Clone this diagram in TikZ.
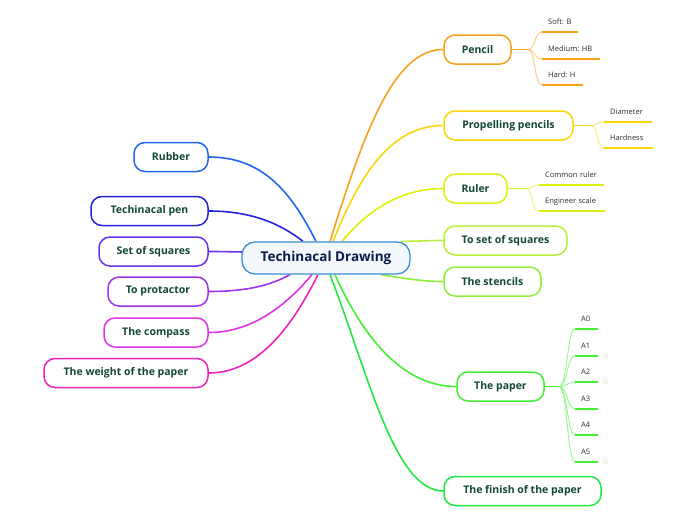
\documentclass[tikz,border=0pt]{standalone}
\usepackage{fontspec}
\setmainfont{Open Sans}
\usetikzlibrary{backgrounds}
\definecolor{txt}{RGB}{18,72,56}
\definecolor{roottxt}{RGB}{12,30,72}
\definecolor{leaftxt}{RGB}{45,45,45}
\definecolor{rootdraw}{HTML}{3C8ED4}
\definecolor{rootfill}{HTML}{F3F8FC}
\definecolor{cOr}{HTML}{F7A11C}
\definecolor{cPp}{HTML}{F8D60A}
\definecolor{cRu}{HTML}{DDF00C}
\definecolor{cSq}{HTML}{B8F03C}
\definecolor{cSt}{HTML}{8EEE3A}
\definecolor{cPa}{HTML}{44EE33}
\definecolor{cFi}{HTML}{22E844}
\definecolor{cRb}{HTML}{2266F0}
\definecolor{cPn}{HTML}{2424E0}
\definecolor{cSs}{HTML}{6633F0}
\definecolor{cPr}{HTML}{A033F0}
\definecolor{cCo}{HTML}{E033E6}
\definecolor{cWe}{HTML}{F022B8}
\newcommand\lft[1]{\hspace*{6pt}\mbox{#1}}
\frenchspacing
\begin{document}
\begin{tikzpicture}[x=1pt,y=-1pt,
  box/.style={draw=#1, line width=1.5pt, rounded corners=11pt, fill=white,
    minimum height=29pt, inner sep=0pt, text=txt,
    font=\bfseries\fontsize{10.5}{12}\selectfont},
  rootbox/.style={draw=rootdraw, line width=1.3pt, rounded corners=13pt, fill=rootfill,
    minimum height=32pt, minimum width=168pt, inner sep=0pt, text=roottxt,
    font=\bfseries\fontsize{13.5}{15}\selectfont},
  br/.style={draw=#1, line width=1.6pt},
  stub/.style={draw=#1, line width=1.2pt},
  sub/.style={draw=#1!55, line width=0.9pt},
  ul/.style={draw=#1, line width=2pt},
  leaf/.style={anchor=south west, inner sep=0pt, text width=#1, align=left,
    text height=6pt, text depth=7pt, text=leaftxt, font=\fontsize{7.5}{9}\selectfont},
]
\useasboundingbox (0,0) rectangle (696,520);

% root
\node[rootbox] (root) at (326,258) {Techinacal Drawing};

% right boxes
\node[box=cOr, minimum width=67pt]  (pencil) at (477.5,49.5)  {Pencil};
\node[box=cPp, minimum width=129pt] (prop)   at (508.5,125.5) {Propelling pencils};
\node[box=cRu, minimum width=63pt]  (ruler)  at (475.5,188.5) {Ruler};
\node[box=cSq, minimum width=123pt] (tosq)   at (505.5,240.5) {To set of squares};
\node[box=cSt, minimum width=97pt]  (sten)   at (492.5,281.5) {The stencils};
\node[box=cPa, minimum width=87pt]  (paper)  at (500.5,386.5) {The paper};
\node[box=cFi, minimum width=157pt] (finish) at (522.5,491)   {The finish of the paper};

% left boxes
\node[box=cRb, minimum width=74pt]  (rubber) at (171,157)   {Rubber};
\node[box=cPn, minimum width=117pt] (pen)    at (149.5,211) {Techinacal pen};
\node[box=cSs, minimum width=109pt] (sos)    at (153.5,251.5) {Set of squares};
\node[box=cPr, minimum width=100pt] (prot)   at (158,291.5) {To protactor};
\node[box=cCo, minimum width=104pt] (comp)   at (156,332.5) {The compass};
\node[box=cWe, minimum width=164pt] (weight) at (126,373)   {The weight of the paper};

% leaves
\node[leaf=36pt] (sb) at (542,32) {\lft{Soft: B}};
\node[leaf=58pt] (mh) at (542,59) {\lft{Medium: HB}};
\node[leaf=41pt] (hh) at (542,85) {\lft{Hard: H}};
\node[leaf=48pt] (dia) at (604,122) {\lft{Diameter}};
\node[leaf=49pt] (har) at (604,148) {\lft{Hardness}};
\node[leaf=65pt] (cr) at (539,185) {\lft{Common ruler}};
\node[leaf=66pt] (es) at (539,211) {\lft{Engineer scale}};
\node[leaf=23pt] (a0) at (575,329)   {\lft{A0}};
\node[leaf=23pt] (a1) at (575,355.5) {\lft{A1}};
\node[leaf=23pt] (a2) at (575,382)   {\lft{A2}};
\node[leaf=23pt] (a3) at (575,408.5) {\lft{A3}};
\node[leaf=23pt] (a4) at (575,435)   {\lft{A4}};
\node[leaf=23pt] (a5) at (575,462)   {\lft{A5}};

\coordinate (ph) at ([xshift=16pt]pencil.east);
\coordinate (pph) at ([xshift=17pt]prop.east);
\coordinate (rh) at ([xshift=18pt]ruler.east);
\coordinate (pah) at ([xshift=14pt]paper.east);

\begin{scope}[on background layer]
% right branches
\draw[br=cOr] ([xshift=4pt]root.north) .. controls +(35,-112) and +(-49,0) .. (pencil.west);
\draw[br=cPp] ([xshift=7pt]root.north) .. controls +(24,-59) and +(-56,0) .. (prop.west);
\draw[br=cRu] ([xshift=16pt]root.north) .. controls +(20,-24) and +(-49,0) .. (ruler.west);
\draw[br=cSq] ([xshift=-10pt]root.north east) .. controls +(20,0) and +(-20,0) .. (tosq.west);
\draw[br=cSt] ([xshift=55pt]root.south) .. controls +(25,4) and +(-20,0) .. (sten.west);
\draw[br=cPa] ([xshift=9pt]root.south) .. controls +(25,56) and +(-57,0) .. (paper.west);
\draw[br=cFi] ([xshift=4pt]root.south) .. controls +(38,98) and +(-49,0) .. (finish.west);
% left branches
\draw[br=cRb] ([xshift=-10pt]root.north) .. controls +(-26,-52) and +(52,0) .. (rubber.east);
\draw[br=cPn] ([xshift=-23pt]root.north) .. controls +(-23,-18) and +(42,0) .. (pen.east);
\draw[br=cSs] ([xshift=10pt,yshift=6pt]root.west) .. controls +(-20,0) and +(20,0) .. (sos.east);
\draw[br=cPr] ([xshift=-36pt]root.south) .. controls +(-20,11) and +(37,0) .. (prot.east);
\draw[br=cCo] ([xshift=-14pt]root.south) .. controls +(-22,26) and +(47,0) .. (comp.east);
\draw[br=cWe] ([xshift=-8pt]root.south) .. controls +(-23,46) and +(52,0) .. (weight.east);
\end{scope}

% stubs
\draw[stub=cOr] (pencil.east) -- (ph);
\draw[stub=cPp] (prop.east) -- (pph);
\draw[stub=cRu] (ruler.east) -- (rh);
\draw[stub=cPa] (paper.east) -- (pah);

% sub connectors
\foreach \n in {sb,mh,hh}{\draw[sub=cOr] (ph) .. controls +(8,0) and +(-8,0) .. (\n.south west);}
\foreach \n in {dia,har}{\draw[sub=cPp] (pph) .. controls +(8,0) and +(-8,0) .. (\n.south west);}
\foreach \n in {cr,es}{\draw[sub=cRu] (rh) .. controls +(8,0) and +(-8,0) .. (\n.south west);}
\foreach \n in {a0,a1,a2,a3,a4,a5}{\draw[sub=cPa] (pah) .. controls +(9,0) and +(-8,0) .. (\n.south west);}

% underlines
\foreach \n in {sb,mh,hh}{\draw[ul=cOr] (\n.south west) -- (\n.south east);}
\foreach \n in {dia,har}{\draw[ul=cPp] (\n.south west) -- (\n.south east);}
\foreach \n in {cr,es}{\draw[ul=cRu] (\n.south west) -- (\n.south east);}
\foreach \n in {a0,a1,a2,a3,a4,a5}{\draw[ul=cPa] (\n.south west) -- (\n.south east);}
\end{tikzpicture}
\end{document}
